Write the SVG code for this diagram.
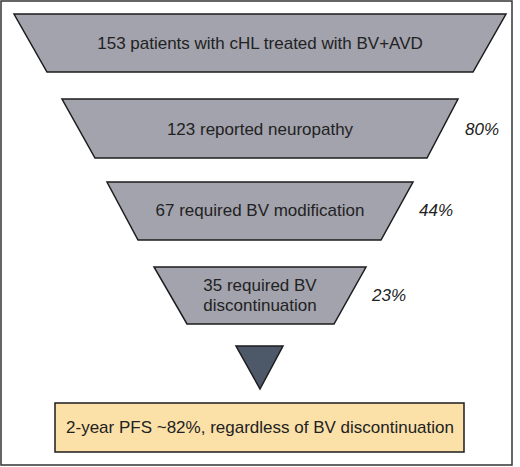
<svg xmlns="http://www.w3.org/2000/svg" width="520" height="467" viewBox="0 0 520 467">
<style>
.stage{fill:#a2a3ad;stroke:#1c1c1c;stroke-width:1.5;stroke-linejoin:miter}
.lbl{font-family:"Liberation Sans",Arial,sans-serif;font-size:17px;fill:#222;text-anchor:middle}
.pct{font-family:"Liberation Sans",Arial,sans-serif;font-size:17px;font-style:italic;fill:#222}
</style>
<rect x="1" y="1" width="511" height="464" fill="#fff" stroke="#333" stroke-width="1.5"/>
<g id="stage1">
<polygon class="stage" points="14,14 506,14 473,72 47,72"/>
<text class="lbl" x="260" y="49">153 patients with cHL treated with BV+AVD</text>
</g>
<g id="stage2">
<polygon class="stage" points="62,99 458,99 427,158 95,158"/>
<text class="lbl" x="260" y="135">123 reported neuropathy</text>
<text class="pct" x="465" y="135">80%</text>
</g>
<g id="stage3">
<polygon class="stage" points="107,182 413,182 381,240 138,240"/>
<text class="lbl" x="260" y="216">67 required BV modification</text>
<text class="pct" x="419" y="216">44%</text>
</g>
<g id="stage4">
<polygon class="stage" points="154,267 366,267 334,324 187,324"/>
<text class="lbl" x="260" y="291">35 required BV</text>
<text class="lbl" x="260" y="311">discontinuation</text>
<text class="pct" x="372" y="301">23%</text>
</g>
<g id="connectors">
<polygon points="236,346 283,346 260,389" fill="#4d5868" stroke="#1c1c1c" stroke-width="1.5"/>
</g>
<g id="outcome">
<rect x="55" y="403" width="409" height="49" fill="#fbe0a8" stroke="#1c1c1c" stroke-width="1.5"/>
<text class="lbl" x="260" y="433">2-year PFS ~82%, regardless of BV discontinuation</text>
</g>
</svg>
